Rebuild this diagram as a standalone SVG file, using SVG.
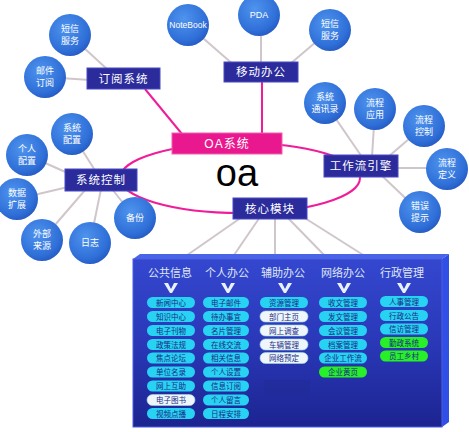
<svg xmlns="http://www.w3.org/2000/svg" width="469" height="432" viewBox="0 0 469 432">
<defs>
<radialGradient id="gc" cx="0.4" cy="0.35" r="0.7">
<stop offset="0" stop-color="#4f94ee"/>
<stop offset="0.75" stop-color="#2f6fd8"/>
<stop offset="1" stop-color="#2458c0"/>
</radialGradient>
<linearGradient id="gp" x1="0" y1="0" x2="0" y2="1">
<stop offset="0" stop-color="#3447cf"/>
<stop offset="0.5" stop-color="#2a38b8"/>
<stop offset="1" stop-color="#1c2490"/>
</linearGradient>
<style>
text{font-family:"Liberation Sans","Noto Sans CJK SC",sans-serif;text-anchor:middle}
.ln{stroke:#cfc6cc;stroke-width:2;fill:none}
.pk{stroke:#f01d9a;stroke-width:2;fill:none}
.c{fill:url(#gc)}
.ct{fill:#fff;font-size:9px}
.r{fill:#2b2b9c;stroke:#4848c4;stroke-width:1}
.rt{fill:#fff;font-size:11.5px;letter-spacing:1px}
.hd{fill:#dfe6f6;font-size:11px}
.cv{fill:#e8f2ff}
.pc{fill:#28d2f2}
.pw{fill:#eef6fa;stroke:#9fd6ea;stroke-width:0.6}
.pg{fill:#28f028}
.pt{fill:#1b2a86;font-size:7.5px}
</style>
</defs>
<rect width="469" height="432" fill="#fff"/>
<g id="connectors">
<line class="ln" x1="70" y1="35" x2="108" y2="70"/>
<line class="ln" x1="45" y1="77" x2="90" y2="80"/>
<line class="ln" x1="188" y1="25" x2="235" y2="66"/>
<line class="ln" x1="261" y1="15" x2="261" y2="64"/>
<line class="ln" x1="330" y1="30" x2="290" y2="64"/>
<line class="ln" x1="325" y1="103" x2="362" y2="157"/>
<line class="ln" x1="375" y1="109" x2="372" y2="157"/>
<line class="ln" x1="424" y1="126" x2="388" y2="157"/>
<line class="ln" x1="447" y1="168" x2="396" y2="168"/>
<line class="ln" x1="420" y1="212" x2="378" y2="172"/>
<line class="ln" x1="72" y1="134" x2="96" y2="172"/>
<line class="ln" x1="27" y1="155" x2="70" y2="174"/>
<line class="ln" x1="17" y1="199" x2="68" y2="187"/>
<line class="ln" x1="42" y1="240" x2="86" y2="189"/>
<line class="ln" x1="90" y1="243" x2="101" y2="189"/>
<line class="ln" x1="135" y1="218" x2="112" y2="189"/>
<line class="ln" x1="242" y1="217" x2="183" y2="258"/>
<line class="ln" x1="260" y1="217" x2="232" y2="258"/>
<line class="ln" x1="275" y1="217" x2="275" y2="258"/>
<line class="ln" x1="287" y1="217" x2="327" y2="258"/>
<line class="ln" x1="300" y1="215" x2="368" y2="258"/>
<ellipse class="pk" cx="240" cy="178" rx="120" ry="35"/>
<line class="pk" x1="145" y1="89" x2="182" y2="134"/>
<line class="pk" x1="262" y1="82" x2="262" y2="134"/>
</g>
<g id="panel">
<polygon points="133,259 140,254 449,254 442,259" fill="#4a64e8"/>
<polygon points="442,259 449,254 449,422 442,427" fill="#2f4fe6"/>
<rect x="133" y="259" width="309" height="168" fill="url(#gp)" stroke="#4a5ee0" stroke-width="1"/>
<rect x="264" y="380" width="46" height="18" fill="#222c9a" opacity="0.8"/>
<text class="hd" x="170" y="277">公共信息</text>
<text class="hd" x="227" y="277">个人办公</text>
<text class="hd" x="283" y="277">辅助办公</text>
<text class="hd" x="343" y="277">网络办公</text>
<text class="hd" x="402" y="277">行政管理</text>
<polygon class="cv" points="164,283 168,283 171,289 174,283 178,283 172,293 170,293"/>
<polygon class="cv" points="221,283 225,283 228,289 231,283 235,283 229,293 227,293"/>
<polygon class="cv" points="278,283 282,283 285,289 288,283 292,283 286,293 284,293"/>
<polygon class="cv" points="337,283 341,283 344,289 347,283 351,283 345,293 343,293"/>
<polygon class="cv" points="397,283 401,283 404,289 407,283 411,283 405,293 403,293"/>
</g>
<g id="col-public">
<rect class="pc" x="147" y="297" width="48" height="11" rx="5.5"/><text class="pt" x="171" y="305.5">新闻中心</text>
<rect class="pc" x="147" y="311" width="48" height="11" rx="5.5"/><text class="pt" x="171" y="319.5">知识中心</text>
<rect class="pc" x="147" y="325" width="48" height="11" rx="5.5"/><text class="pt" x="171" y="333.5">电子刊物</text>
<rect class="pc" x="147" y="339" width="48" height="11" rx="5.5"/><text class="pt" x="171" y="347.5">政策法规</text>
<rect class="pc" x="147" y="352.5" width="48" height="11" rx="5.5"/><text class="pt" x="171" y="361">焦点论坛</text>
<rect class="pc" x="147" y="366.5" width="48" height="11" rx="5.5"/><text class="pt" x="171" y="375">单位名录</text>
<rect class="pc" x="147" y="380.5" width="48" height="11" rx="5.5"/><text class="pt" x="171" y="389">网上互助</text>
<rect class="pw" x="147" y="394.5" width="48" height="11" rx="5.5"/><text class="pt" x="171" y="403">电子图书</text>
<rect class="pc" x="147" y="408" width="48" height="11" rx="5.5"/><text class="pt" x="171" y="416.5">视频点播</text>
</g>
<g id="col-personal">
<rect class="pc" x="203" y="297" width="46" height="11" rx="5.5"/><text class="pt" x="226" y="305.5">电子邮件</text>
<rect class="pc" x="203" y="311" width="46" height="11" rx="5.5"/><text class="pt" x="226" y="319.5">待办事宜</text>
<rect class="pc" x="203" y="325" width="46" height="11" rx="5.5"/><text class="pt" x="226" y="333.5">名片管理</text>
<rect class="pc" x="203" y="339" width="46" height="11" rx="5.5"/><text class="pt" x="226" y="347.5">在线交流</text>
<rect class="pc" x="203" y="352.5" width="46" height="11" rx="5.5"/><text class="pt" x="226" y="361">相关信息</text>
<rect class="pc" x="203" y="366.5" width="46" height="11" rx="5.5"/><text class="pt" x="226" y="375">个人设置</text>
<rect class="pc" x="203" y="380.5" width="46" height="11" rx="5.5"/><text class="pt" x="226" y="389">信息订阅</text>
<rect class="pc" x="203" y="394.5" width="46" height="11" rx="5.5"/><text class="pt" x="226" y="403">个人留言</text>
<rect class="pc" x="203" y="408" width="46" height="11" rx="5.5"/><text class="pt" x="226" y="416.5">日程安排</text>
</g>
<g id="col-assist">
<rect class="pc" x="260" y="297" width="48" height="11" rx="5.5"/><text class="pt" x="284" y="305.5">资源管理</text>
<rect class="pw" x="260" y="311" width="48" height="11" rx="5.5"/><text class="pt" x="284" y="319.5">部门主页</text>
<rect class="pw" x="260" y="325" width="48" height="11" rx="5.5"/><text class="pt" x="284" y="333.5">网上调查</text>
<rect class="pw" x="260" y="339" width="48" height="11" rx="5.5"/><text class="pt" x="284" y="347.5">车辆管理</text>
<rect class="pw" x="260" y="352.5" width="48" height="11" rx="5.5"/><text class="pt" x="284" y="361">网络预定</text>
</g>
<g id="col-network">
<rect class="pc" x="319" y="297" width="48" height="11" rx="5.5"/><text class="pt" x="343" y="305.5">收文管理</text>
<rect class="pc" x="319" y="311" width="48" height="11" rx="5.5"/><text class="pt" x="343" y="319.5">发文管理</text>
<rect class="pc" x="319" y="325" width="48" height="11" rx="5.5"/><text class="pt" x="343" y="333.5">会议管理</text>
<rect class="pc" x="319" y="339" width="48" height="11" rx="5.5"/><text class="pt" x="343" y="347.5">档案管理</text>
<rect class="pc" x="319" y="352.5" width="48" height="11" rx="5.5"/><text class="pt" x="343" y="361">企业工作流</text>
<rect class="pg" x="319" y="366.5" width="48" height="11" rx="5.5"/><text class="pt" x="343" y="375">企业黄页</text>
</g>
<g id="col-admin">
<rect class="pc" x="380" y="296" width="48" height="11" rx="5.5"/><text class="pt" x="404" y="304.5">人事管理</text>
<rect class="pc" x="380" y="310" width="48" height="11" rx="5.5"/><text class="pt" x="404" y="318.5">行政公告</text>
<rect class="pc" x="380" y="323.5" width="48" height="11" rx="5.5"/><text class="pt" x="404" y="332">信访管理</text>
<rect class="pg" x="380" y="337" width="48" height="11" rx="5.5"/><text class="pt" x="404" y="345.5">勤政系统</text>
<rect class="pg" x="380" y="350.5" width="48" height="11" rx="5.5"/><text class="pt" x="404" y="359">员工乡村</text>
</g>
<g id="n-sms1"><circle class="c" cx="70" cy="35" r="21"/><text class="ct" x="70" y="32">短信</text><text class="ct" x="70" y="44">服务</text></g>
<g id="n-mail"><circle class="c" cx="45" cy="77" r="21"/><text class="ct" x="45" y="74">邮件</text><text class="ct" x="45" y="86">订阅</text></g>
<g id="n-notebook"><circle class="c" cx="188" cy="25" r="21"/><text class="ct" x="188" y="28" style="font-size:8.5px">NoteBook</text></g>
<g id="n-pda"><circle class="c" cx="259" cy="15" r="21"/><text class="ct" x="259" y="18">PDA</text></g>
<g id="n-sms2"><circle class="c" cx="330" cy="30" r="21"/><text class="ct" x="330" y="27">短信</text><text class="ct" x="330" y="39">服务</text></g>
<g id="n-subscribe"><rect class="r" x="87" y="68" width="73" height="21"/><text class="rt" x="123.5" y="82.5">订阅系统</text></g>
<g id="n-mobile"><rect class="r" x="224" y="62" width="74" height="20"/><text class="rt" x="261" y="76">移动办公</text></g>
<g id="n-oa"><rect x="172" y="133" width="110" height="21" fill="#ea188e" stroke="#f060b0" stroke-width="1"/><text class="rt" x="227" y="148" style="font-size:12px">OA系统</text></g>
<text x="237" y="186" style="font-size:38px;fill:#000">oa</text>
<g id="n-sysctl"><rect class="r" x="65" y="169" width="72" height="22"/><text class="rt" x="101" y="184">系统控制</text></g>
<g id="n-syscfg"><circle class="c" cx="72" cy="134" r="21"/><text class="ct" x="72" y="131">系统</text><text class="ct" x="72" y="143">配置</text></g>
<g id="n-percfg"><circle class="c" cx="27" cy="155" r="21"/><text class="ct" x="27" y="152">个人</text><text class="ct" x="27" y="164">配置</text></g>
<g id="n-dataext"><circle class="c" cx="17" cy="199" r="21"/><text class="ct" x="17" y="196">数据</text><text class="ct" x="17" y="208">扩展</text></g>
<g id="n-extsrc"><circle class="c" cx="42" cy="240" r="21"/><text class="ct" x="42" y="237">外部</text><text class="ct" x="42" y="249">来源</text></g>
<g id="n-log"><circle class="c" cx="90" cy="243" r="21"/><text class="ct" x="90" y="246">日志</text></g>
<g id="n-backup"><circle class="c" cx="135" cy="218" r="21"/><text class="ct" x="135" y="221">备份</text></g>
<g id="n-workflow"><rect class="r" x="324" y="155" width="74" height="22"/><text class="rt" x="361" y="170">工作流引擎</text></g>
<g id="n-contacts"><circle class="c" cx="325" cy="103" r="21"/><text class="ct" x="325" y="100">系统</text><text class="ct" x="325" y="112">通讯录</text></g>
<g id="n-flowapp"><circle class="c" cx="375" cy="109" r="21"/><text class="ct" x="375" y="106">流程</text><text class="ct" x="375" y="118">应用</text></g>
<g id="n-flowctl"><circle class="c" cx="424" cy="126" r="21"/><text class="ct" x="424" y="123">流程</text><text class="ct" x="424" y="135">控制</text></g>
<g id="n-flowdef"><circle class="c" cx="447" cy="169" r="21"/><text class="ct" x="447" y="166">流程</text><text class="ct" x="447" y="178">定义</text></g>
<g id="n-error"><circle class="c" cx="420" cy="212" r="21"/><text class="ct" x="420" y="209">错误</text><text class="ct" x="420" y="221">提示</text></g>
<g id="n-core"><rect class="r" x="233" y="198" width="74" height="21"/><text class="rt" x="270" y="212.5">核心模块</text></g>
</svg>
